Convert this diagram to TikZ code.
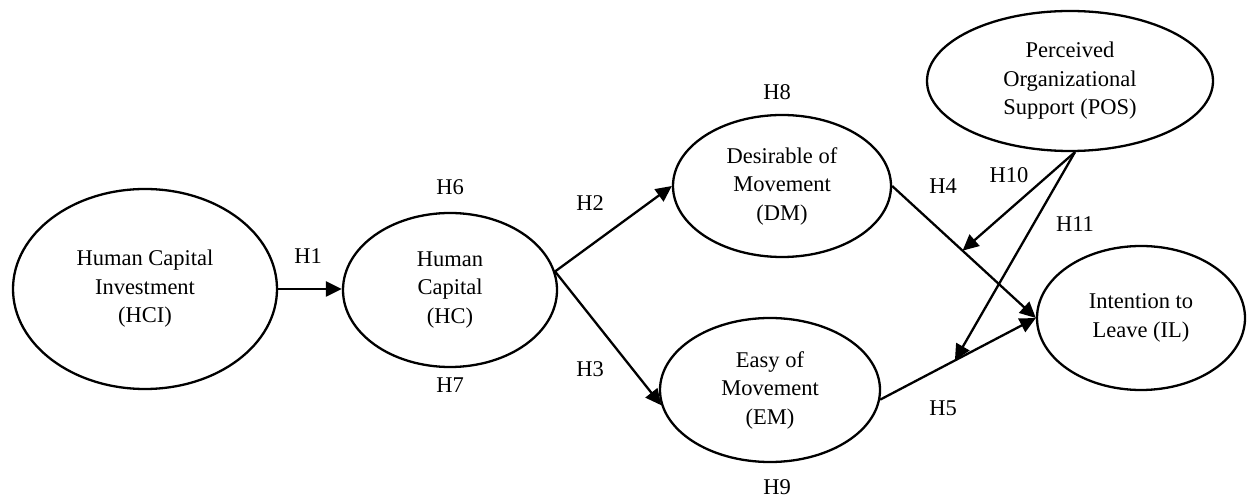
\documentclass[tikz,border=0pt]{standalone}
\usepackage{fontspec}
\setmainfont{Liberation Serif}
\usetikzlibrary{arrows.meta,shapes.geometric}

\tikzset{
  construct/.style={ellipse,draw,line width=1.15pt,inner sep=0pt,align=center,
    font=\fontsize{11.25}{14.25}\selectfont},
  hyp/.style={inner sep=1pt,font=\fontsize{11.25}{14.25}\selectfont},
  link/.style={-{Triangle[length=8pt,width=7.5pt]},line width=1.15pt}
}

\begin{document}
\begin{tikzpicture}[x=0.5pt,y=0.5pt]
\useasboundingbox (0,0) rectangle (1247,498);
% constructs
\node[construct,minimum width=132pt,minimum height=100pt] (HCI) at (145,209) {Human Capital\\Investment\\(HCI)};
\node[construct,minimum width=107pt,minimum height=77pt] (HC) at (450,208) {Human\\Capital\\(HC)};
\node[construct,minimum width=109pt,minimum height=71pt] (DM) at (782,312) {Desirable of\\Movement\\(DM)};
\node[construct,minimum width=110pt,minimum height=72pt] (EM) at (770,108) {Easy of\\Movement\\(EM)};
\node[construct,minimum width=143pt,minimum height=70pt] (POS) at (1070,417) {Perceived\\Organizational\\Support (POS)};
\node[construct,minimum width=104pt,minimum height=72pt] (IL) at (1141,180) {Intention to\\Leave (IL)};
% direct paths
\draw[link] (HCI.east) -- (HCI.east -| HC.west);
\draw[link] (HC.10) -- (DM.west);
\draw[link] (HC.10) -- (EM.188);
\draw[link] (DM.east) -- coordinate[pos=0.49] (m1) (IL.west);
\draw[link] (EM.-5) -- coordinate[pos=0.48] (m2) (IL.west);
% moderation
\draw[link] (POS.-86) -- (m1);
\draw[link] (POS.-86) -- (m2);
% hypotheses
\node[hyp] (h1) at (308,242) {H1};
\node[hyp] (h2) at (590,295) {H2};
\node[hyp] (h3) at (590,129) {H3};
\node[hyp] (h4) at (943,312) {H4};
\node[hyp] (h5) at (943,90) {H5};
\node[hyp] (h6) at (450,311) {H6};
\node[hyp] (h7) at (450,113) {H7};
\node[hyp] (h8) at (777,406) {H8};
\node[hyp] (h9) at (777,11) {H9};
\node[hyp] (h10) at (1009,323) {H10};
\node[hyp] (h11) at (1075,274) {H11};
\end{tikzpicture}
\end{document}
